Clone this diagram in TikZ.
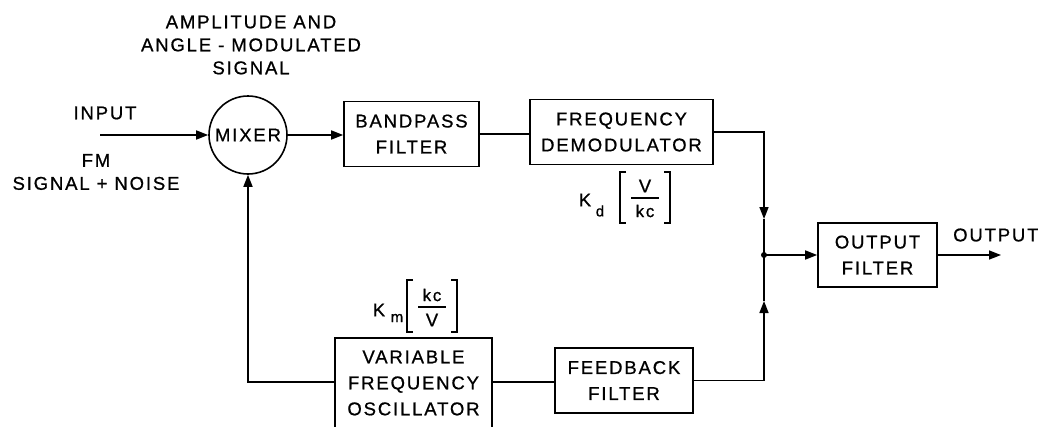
\documentclass[tikz,border=0pt]{standalone}
\usepackage{fontspec}
\setmainfont{Liberation Sans}[LetterSpace=10, FakeBold=0.8]
\usetikzlibrary{arrows.meta}
\tikzset{
  blk/.style={draw, line width=1.6pt, align=center, inner sep=0pt, font=\fontsize{18.5}{26}\selectfont},
  lbl/.style={align=center, inner sep=0pt, font=\fontsize{18.5}{23}\selectfont},
  sub/.style={inner sep=0pt, font=\fontsize{15}{16}\selectfont},
  frac/.style={inner sep=0pt, font=\fontsize{17}{18}\selectfont},
  wire/.style={line width=1.6pt},
  arr/.style={line width=1.6pt, -{Triangle[length=12pt,width=9pt]}},
}
\begin{document}
\begin{tikzpicture}[x=1pt,y=-1pt]
\useasboundingbox (0,0) rectangle (1038,426);
% blocks
\node[blk, circle, minimum size=78pt] (mix) at (248,135) {MIXER};
\node[blk, minimum width=135pt, minimum height=65pt] (bpf) at (411.5,134) {BANDPASS\\FILTER};
\node[blk, minimum width=183pt, minimum height=65pt] (dem) at (621.5,132) {FREQUENCY\\DEMODULATOR};
\node[blk, minimum width=119pt, minimum height=64pt] (of) at (877.5,255) {OUTPUT\\FILTER};
\node[blk, minimum width=157pt, minimum height=90pt] (vfo) at (413.5,383) {VARIABLE\\FREQUENCY\\OSCILLATOR};
\node[blk, minimum width=138pt, minimum height=65pt] (fb) at (624,380.5) {FEEDBACK\\FILTER};
% coordinates
\coordinate (in) at (100,135);
\coordinate (j) at (764,255);
\coordinate (jt) at (764,219);
\coordinate (jb) at (764,301);
\coordinate (out) at (1001,255);
\coordinate (lc) at (248,382);
% labels
\node[lbl] (tin) at (105,113) {INPUT};
\node[lbl] (tfm) at (96,172) {FM\\SIGNAL + NOISE};
\node[lbl] (ttl) at (251,45) {AMPLITUDE AND\\ANGLE - MODULATED\\SIGNAL};
\node[lbl, anchor=west] (tout) at (953,235) {OUTPUT};
% Kd
\node[lbl] (kd) at (585,200) {K};
\node[sub] (kds) at (600,211) {d};
\node[frac, font=\fontsize{18.5}{19}\selectfont] (kdn) at (645,186) {V};
\node[frac] (kdd) at (645,211) {kc};
\draw[wire] (631,198) -- (659,198);
\draw[wire] (626,172) -- (620,172) -- (620,223) -- (626,223);
\draw[wire] (664,172) -- (670,172) -- (670,223) -- (664,223);
% Km
\node[lbl] (km) at (379,310) {K};
\node[sub] (kms) at (397,318) {m};
\node[frac] (kmn) at (432,295) {kc};
\node[frac, font=\fontsize{18.5}{19}\selectfont] (kmd) at (432,320) {V};
\draw[wire] (418,307) -- (446,307);
\draw[wire] (413,280) -- (407,280) -- (407,332) -- (413,332);
\draw[wire] (451,280) -- (457,280) -- (457,332) -- (451,332);
% connectors
\draw[arr] (in) -- (mix.west);
\draw[arr] (mix.east) -- (mix.east -| bpf.west);
\draw[wire] (bpf.east) -- (bpf.east -| dem.west);
\draw[arr] (dem.east) -| (jt);
\draw[wire] (jt) -- (j);
\draw[arr] (fb.east) -| (jb);
\draw[wire] (jb) -- (j);
\fill (j) circle (3pt);
\draw[arr] (j) -- (of.west);
\draw[arr] (of.east) -- (out);
\draw[wire] (vfo.east |- lc) -- (lc -| fb.west);
\draw[arr] (vfo.west |- lc) -- (lc) -- (mix.south);
\end{tikzpicture}
\end{document}
